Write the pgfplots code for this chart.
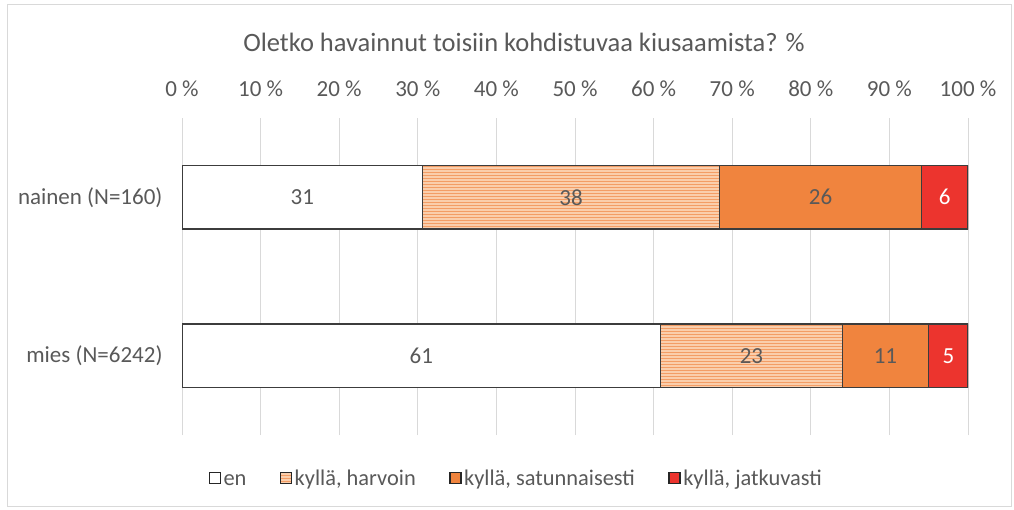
\documentclass[border=0pt]{standalone}
\usepackage{fontspec}
\setmainfont{Carlito}
\usepackage{pgfplots}
\pgfplotsset{compat=1.18}
\usetikzlibrary{patterns}
\definecolor{txtgray}{RGB}{89,89,89}
\definecolor{gridgray}{RGB}{217,217,217}
\definecolor{xlorange}{RGB}{240,132,62}
\definecolor{xlred}{RGB}{236,52,46}
\definecolor{xllight}{RGB}{250,206,172}
\definecolor{edge}{RGB}{60,60,60}

\begin{document}
\begin{tikzpicture}[x=1pt,y=1pt]
\useasboundingbox (0,0) rectangle (1014,509);
\draw[gridgray] (7,3) rectangle (1011,505);
\node[text=txtgray,font=\fontsize{26.5}{30}\selectfont] at (524,467) {Oletko havainnut toisiin kohdistuvaa kiusaamista? \%};
\begin{axis}[
  at={(182pt,74pt)}, anchor=south west,
  scale only axis,
  width=786pt, height=317pt,
  xbar stacked,
  bar width=0.4,
  xmin=0, xmax=100,
  ymin=-0.5, ymax=1.5,
  axis line style={draw=none},
  major tick length=0pt,
  xtick={0,10,...,100},
  xticklabel pos=upper,
  xticklabel={\pgfmathprintnumber{\tick}~\%},
  xticklabel style={yshift=18pt},
  ytick={0,1},
  yticklabels={mies (N=6242),nainen (N=160)},
  yticklabel style={xshift=-16pt},
  xmajorgrids,
  grid style={gridgray,line width=1pt},
  ticklabel style={text=txtgray,font=\fontsize{23}{27}\selectfont},
  /pgf/number format/assume math mode=true,
  nodes near coords={\pgfmathprintnumber[fixed,precision=0]{\pgfplotspointmeta}},
  every node near coord/.append style={text=txtgray,font=\fontsize{23}{27}\selectfont},
  legend columns=-1,
  legend style={at={(0.4256,-0.145)},anchor=center,draw=none,
    font=\fontsize{22.4}{26}\selectfont,text=txtgray,
    nodes={text height=0.7em,text depth=0.25em,inner sep=2.5pt},
    /tikz/every even column/.append style={column sep=31pt}},
  legend image code/.code={\draw[#1,draw=black!85,line width=1.3pt] (0pt,-0.5pt) rectangle (11pt,10.5pt);},
]
\addplot[fill=white,draw=edge,line width=1.2pt] coordinates {(60.9,0) (30.6,1)};
\addlegendentry{en}
\addplot[fill=xllight,draw=edge,line width=1.2pt,postaction={pattern=horizontal lines,pattern color=xlorange!80}] coordinates {(23.1,0) (37.8,1)};
\addlegendentry{kyllä, harvoin}
\addplot[fill=xlorange,draw=edge,line width=1.2pt] coordinates {(11.0,0) (25.7,1)};
\addlegendentry{kyllä, satunnaisesti}
\addplot[fill=xlred,draw=edge,line width=1.2pt,every node near coord/.append style={text=white}] coordinates {(5.0,0) (5.9,1)};
\addlegendentry{kyllä, jatkuvasti}
\end{axis}
\end{tikzpicture}
\end{document}
